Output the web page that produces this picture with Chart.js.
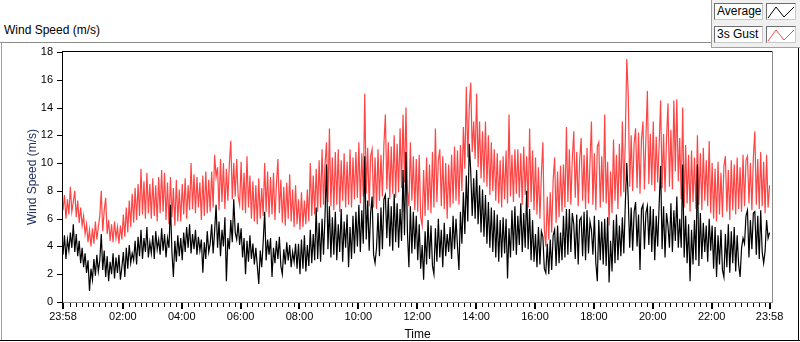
<!DOCTYPE html>
<html>
<head>
<meta charset="utf-8">
<script src="https://cdn.jsdelivr.net/npm/chart.js@4.4.1/dist/chart.umd.min.js"></script>
<style>
  html, body { margin: 0; padding: 0; background: #fff; }
  #wrap { position: relative; width: 800px; height: 342px; overflow: hidden;
          font-family: "Liberation Sans", Arial, sans-serif; color: #000; }
  #chart { position: absolute; left: 0; top: 0; }
  .abs { position: absolute; }
  .title { left: 4px; top: 23px; font-size: 12px; }
  .legendPanel { left: 711px; top: 0; width: 89px; height: 47px; background: #f0f0f0;
                 border-left: 1px solid #a0a0a0; border-bottom: 1px solid #a0a0a0; }
  .lbox { height: 15px; background: #fff; border: 1px solid #6e6e6e; border-right-color: #c8c8c8;
          border-bottom-color: #c8c8c8; font-size: 12px; line-height: 15px; padding-left: 2px; }
  .sw { width: 28px; height: 15px; background: #fff; border: 1px solid #6e6e6e;
        border-right-color: #c8c8c8; border-bottom-color: #c8c8c8; }
</style>
</head>
<body>
<div id="wrap">
  <div class="abs title">Wind Speed (m/s)</div>
  <div class="abs" style="left:0;top:42px;width:711px;height:1px;background:#8c8c8c"></div>
  <div class="abs" style="left:1px;top:42px;width:1px;height:299px;background:#a0a0a0"></div>
  <div class="abs" style="left:0;top:340px;width:800px;height:1px;background:#000"></div>
  <div class="abs" style="left:798px;top:48px;width:1px;height:293px;background:#000"></div>
  <div class="abs legendPanel"></div>
  <div class="abs lbox" style="left:714px;top:3px;width:45px">Average</div>
  <div class="abs sw" style="left:766px;top:3px">
    <svg width="28" height="15"><polyline points="1,14 9,3 17,13 27,3" fill="none" stroke="#000" stroke-width="1"/></svg>
  </div>
  <div class="abs lbox" style="left:714px;top:26px;width:45px">3s Gust</div>
  <div class="abs sw" style="left:766px;top:26px">
    <svg width="28" height="15"><polyline points="1,14 9,3 17,13 27,3" fill="none" stroke="#ff4444" stroke-width="1"/></svg>
  </div>
  <canvas id="chart" width="800" height="342"></canvas>
</div>
<script>
// one sample every 3 minutes, starting at 23:58
const STEP_MIN = 3;

// x axis: minutes after 23:58 and their labels
const tickMinutes = [0, 122, 242, 362, 482, 602, 722, 842, 962, 1082, 1202, 1322, 1440];
const tickLabels = ["23:58", "02:00", "04:00", "06:00", "08:00", "10:00", "12:00",
                    "14:00", "16:00", "18:00", "20:00", "22:00", "23:58"];
const Y_MIN = 0, Y_MAX = 18, Y_STEP = 2;

// 3s gust (m/s), 20 values per hour
const gustSpeed = [
  6.6, 7.7, 6.0, 7.4, 6.3, 8.3, 6.5, 7.2, 8.0, 6.1, 7.3, 5.7, 6.8, 5.5, 6.2, 4.9, 5.6, 4.3, 5.2, 4.0,
  5.3, 4.2, 5.8, 4.5, 5.4, 6.2, 8.0, 5.1, 6.6, 7.5, 4.9, 5.9, 4.4, 5.6, 4.3, 5.8, 4.6, 5.4, 4.2, 5.5,
  4.5, 6.3, 4.7, 6.8, 5.0, 7.3, 5.4, 7.8, 5.7, 8.2, 5.9, 8.5, 6.2, 9.6, 6.3, 8.7, 6.0, 9.3, 6.4, 8.5,
  6.0, 8.9, 6.2, 8.4, 5.8, 9.0, 6.4, 9.5, 6.5, 9.3, 5.9, 8.6, 5.6, 9.0, 6.1, 8.2, 5.5, 8.8, 5.8, 8.1,
  5.8, 8.5, 6.3, 8.9, 6.0, 8.4, 6.6, 10.0, 6.7, 9.2, 6.4, 9.0, 6.8, 8.6, 5.9, 9.1, 6.2, 9.4, 6.4, 8.8,
  6.5, 9.4, 6.8, 10.6, 9.0, 9.7, 6.6, 10.3, 7.2, 10.0, 6.7, 9.6, 7.3, 9.9, 11.6, 7.4, 10.0, 7.6, 10.3, 7.6,
  7.0, 10.1, 6.6, 9.3, 6.4, 10.5, 6.8, 9.1, 6.0, 8.7, 5.8, 8.4, 5.6, 8.9, 6.0, 8.2, 6.2, 10.0, 6.5, 9.4,
  6.1, 9.0, 6.3, 9.3, 5.9, 8.5, 10.3, 6.4, 8.8, 5.7, 8.3, 5.5, 8.6, 6.0, 9.2, 5.8, 8.1, 5.4, 8.4, 5.6,
  7.4, 5.2, 7.9, 5.4, 7.3, 5.6, 8.1, 5.8, 10.0, 6.2, 9.1, 6.3, 9.6, 6.5, 10.2, 6.8, 11.0, 7.0, 9.9, 11.5,
  7.2, 12.5, 6.9, 10.4, 6.6, 10.8, 7.0, 11.0, 6.5, 10.2, 7.3, 10.7, 6.8, 10.1, 7.0, 11.0, 6.8, 10.4, 7.4, 10.8,
  7.5, 11.5, 7.1, 10.7, 7.6, 15.0, 7.8, 11.1, 6.9, 10.5, 11.0, 6.8, 10.4, 6.7, 11.0, 7.3, 10.6, 7.6, 11.3, 13.5,
  8.1, 11.5, 7.4, 11.2, 7.8, 12.0, 7.5, 11.4, 7.9, 12.5, 8.2, 13.5, 8.6, 14.0, 8.0, 6.9, 11.5, 7.3, 10.5, 6.6,
  10.3, 6.5, 10.6, 6.1, 5.5, 9.5, 6.2, 10.4, 6.6, 9.9, 6.4, 10.8, 6.8, 12.5, 7.2, 10.2, 11.0, 6.9, 10.5, 6.7,
  10.0, 6.0, 9.9, 6.8, 10.6, 7.1, 11.2, 7.3, 10.9, 7.0, 11.3, 8.0, 12.6, 9.6, 15.5, 10.4, 14.0, 15.8, 10.8, 13.0,
  10.3, 15.0, 9.7, 13.0, 8.9, 12.3, 8.6, 13.0, 8.3, 12.0, 7.7, 11.5, 8.0, 11.0, 7.3, 10.7, 7.1, 10.2, 6.8, 10.5,
  7.4, 10.9, 7.1, 13.5, 7.6, 10.6, 7.2, 11.0, 7.8, 11.0, 7.5, 10.7, 7.0, 11.2, 7.7, 10.5, 6.8, 12.5, 7.2, 10.9,
  6.6, 10.4, 6.3, 9.7, 6.0, 9.2, 11.5, 5.2, 4.0, 7.6, 4.5, 7.9, 5.0, 8.8, 10.4, 5.7, 9.4, 6.1, 9.8, 6.5,
  9.9, 6.8, 12.6, 7.2, 11.0, 7.0, 10.3, 12.3, 7.5, 10.8, 6.9, 10.2, 11.8, 7.3, 10.6, 6.7, 11.1, 7.1, 10.0, 13.0,
  7.0, 10.7, 6.6, 11.2, 11.5, 6.8, 10.5, 7.2, 13.5, 7.1, 10.1, 5.5, 9.4, 6.4, 11.7, 7.3, 10.6, 6.7, 11.4, 7.6,
  13.0, 7.9, 11.6, 17.5, 15.0, 8.3, 12.0, 8.0, 11.4, 12.5, 8.2, 12.2, 7.8, 11.7, 13.0, 8.1, 11.8, 15.2, 8.5, 12.1,
  8.4, 13.0, 8.0, 11.9, 8.6, 11.3, 14.5, 8.2, 12.1, 7.9, 11.7, 14.3, 8.3, 12.4, 8.1, 14.5, 9.4, 14.6, 8.7, 11.8,
  7.4, 14.0, 6.8, 11.3, 7.1, 10.6, 6.5, 10.9, 7.2, 10.4, 6.7, 12.0, 7.0, 10.7, 6.6, 11.1, 7.3, 10.2, 6.9, 11.6,
  6.4, 10.0, 6.0, 9.6, 5.8, 10.1, 6.3, 9.3, 6.1, 9.8, 10.5, 6.5, 9.5, 5.9, 10.2, 6.6, 9.9, 6.3, 10.4, 6.7,
  9.7, 6.5, 10.6, 6.9, 10.2, 10.5, 7.1, 10.0, 6.6, 10.4, 12.3, 7.0, 10.3, 6.7, 10.8, 6.9, 10.1, 6.4, 10.6, 6.8, 8.4
];

// average (m/s), 20 values per hour
const avgSpeed = [
  3.4, 4.8, 3.1, 4.5, 3.7, 5.0, 3.9, 5.6, 3.6, 4.9, 3.3, 4.4, 2.8, 3.9, 2.5, 3.5, 2.1, 3.0, 0.8, 2.4,
  1.6, 3.1, 1.9, 3.4, 2.2, 3.0, 4.9, 2.3, 3.7, 1.8, 3.3, 1.5, 2.9, 2.0, 3.5, 1.7, 3.2, 2.1, 3.4, 1.6,
  2.5, 3.6, 1.8, 3.9, 2.4, 4.1, 2.8, 3.5, 3.0, 4.4, 2.7, 4.7, 3.3, 5.2, 3.1, 4.6, 3.6, 5.4, 3.2, 4.3,
  3.5, 4.8, 3.1, 5.1, 3.8, 4.5, 3.4, 5.3, 3.7, 4.9, 3.2, 4.6, 3.9, 7.0, 3.6, 1.8, 4.4, 2.9, 4.8, 3.3,
  4.6, 3.0, 5.0, 3.6, 5.4, 3.9, 5.6, 3.5, 4.9, 3.8, 5.2, 3.4, 4.7, 3.7, 4.5, 2.1, 4.3, 3.1, 5.1, 3.6,
  4.2, 5.6, 3.5, 5.1, 7.0, 3.9, 5.8, 3.3, 5.2, 4.0, 6.1, 1.5, 4.6, 3.8, 5.9, 4.3, 7.4, 5.0, 4.5, 5.7,
  4.1, 5.3, 3.2, 4.6, 2.0, 4.4, 2.9, 4.8, 3.1, 4.2, 2.7, 3.9, 2.6, 1.3, 3.7, 2.5, 4.3, 6.5, 3.0, 4.5,
  3.4, 4.6, 1.8, 3.9, 2.8, 4.4, 3.1, 4.7, 2.6, 2.0, 3.8, 2.7, 4.3, 3.0, 4.1, 2.5, 3.6, 2.9, 4.2, 2.4,
  4.2, 2.0, 4.5, 2.4, 4.8, 2.2, 4.1, 2.6, 5.2, 2.8, 4.9, 3.0, 6.8, 3.1, 5.7, 2.9, 6.0, 3.4, 6.2, 9.9,
  3.8, 6.9, 3.2, 6.1, 3.4, 6.5, 3.0, 5.6, 3.6, 6.7, 2.9, 5.8, 3.9, 6.3, 2.5, 5.4, 3.1, 6.2, 3.5, 6.5,
  4.0, 7.0, 3.6, 6.6, 4.2, 10.5, 4.5, 7.3, 3.7, 6.4, 7.6, 3.4, 2.8, 3.9, 6.4, 3.3, 6.8, 3.8, 7.4, 7.7,
  4.6, 7.5, 4.0, 6.9, 3.7, 7.8, 4.3, 7.1, 3.9, 6.7, 4.4, 9.5, 4.8, 10.8, 5.0, 2.5, 6.9, 3.5, 6.5, 3.8,
  6.2, 3.0, 5.6, 2.4, 4.1, 1.6, 5.1, 2.7, 5.9, 3.1, 5.5, 2.6, 2.0, 5.3, 2.9, 6.0, 3.2, 5.2, 2.5, 5.7,
  3.3, 4.9, 3.6, 5.4, 3.1, 6.2, 3.8, 6.0, 4.0, 2.3, 6.5, 4.2, 7.9, 4.9, 9.1, 5.8, 11.4, 9.4, 6.2, 8.9,
  6.0, 9.5, 5.6, 8.4, 5.0, 8.1, 4.7, 7.7, 4.2, 7.2, 3.9, 6.8, 3.6, 6.6, 3.2, 6.3, 2.9, 5.9, 3.2, 6.1,
  3.5, 6.0, 1.7, 5.3, 3.2, 6.6, 3.7, 6.9, 3.4, 6.2, 4.1, 7.1, 3.6, 6.4, 3.9, 8.0, 3.8, 6.7, 3.0, 5.9,
  2.9, 4.9, 2.5, 5.4, 2.7, 5.1, 4.7, 2.4, 2.1, 4.2, 2.0, 4.5, 2.3, 4.8, 5.2, 2.6, 5.5, 2.8, 5.0, 3.0,
  6.2, 3.2, 6.7, 3.4, 6.7, 3.6, 6.4, 5.6, 3.1, 6.3, 2.7, 5.9, 6.1, 3.3, 6.5, 3.0, 6.6, 3.5, 5.8, 5.2,
  3.4, 6.2, 2.8, 1.5, 5.9, 3.0, 5.8, 2.7, 6.0, 2.6, 6.1, 1.4, 4.4, 2.2, 5.9, 2.8, 6.3, 3.0, 5.5, 3.3,
  6.1, 3.5, 7.0, 10.0, 7.4, 3.9, 6.8, 3.7, 6.5, 7.2, 4.0, 6.3, 2.3, 6.7, 7.0, 3.8, 6.4, 6.9, 4.1, 6.9,
  3.6, 6.7, 3.0, 6.2, 4.0, 7.0, 9.8, 3.8, 6.9, 3.2, 6.4, 5.5, 3.9, 7.1, 3.6, 6.6, 4.4, 7.6, 3.9, 6.0,
  3.9, 9.9, 3.2, 6.2, 2.8, 5.6, 1.5, 5.2, 2.7, 5.9, 3.0, 9.9, 2.6, 6.4, 3.1, 5.7, 3.6, 5.5, 2.9, 6.0,
  3.7, 5.5, 2.4, 5.4, 1.8, 4.8, 2.7, 5.2, 2.3, 1.8, 4.9, 2.5, 5.6, 2.1, 5.1, 2.8, 5.4, 2.2, 4.8, 2.7,
  1.8, 3.9, 4.6, 4.2, 6.2, 6.6, 3.2, 5.9, 3.8, 6.4, 6.5, 3.4, 6.2, 3.1, 6.6, 3.6, 2.8, 3.7, 5.9, 4.6, 5.0
];

const toPoints = (arr) => arr.map((v, i) => ({ x: i * STEP_MIN, y: v }));

// LabVIEW style frame and tick marks
const labviewAxes = {
  id: "labviewAxes",
  afterDraw(chart) {
    const { ctx, chartArea: a, scales: { x, y } } = chart;
    ctx.save();
    ctx.fillStyle = "#8c8c8c";
    ctx.fillRect(a.right, a.top - 1, 1, a.bottom - a.top + 2);
    ctx.fillRect(a.left, a.bottom, a.right - a.left, 1);
    ctx.fillStyle = "#000";
    ctx.fillRect(a.left - 1, a.top - 1, 1, a.bottom - a.top + 2);
    ctx.fillRect(a.left - 1, a.top - 1, a.right - a.left + 1, 1);

    for (let v = Y_MIN; v <= Y_MAX; v += Y_STEP) {
      const py = Math.round(y.getPixelForValue(v));
      ctx.fillRect(a.left - 6, py, 5, 1);
    }
    tickMinutes.forEach((m) => {
      const px = Math.round(x.getPixelForValue(m));
      ctx.fillRect(px - 1, a.bottom + 1, 2, 6);
    });
    // minor ticks every 12 minutes from 00:00
    for (let m = 2; m < 1440; m += 12) {
      if (tickMinutes.some((t) => Math.abs(t - m) < 3)) continue;
      const px = Math.round(x.getPixelForValue(m));
      ctx.fillRect(px, a.bottom + 1, 1, 4);
    }
    ctx.restore();
  }
};

new Chart(document.getElementById("chart"), {
  type: "line",
  data: {
    datasets: [
      {
        label: "Average",
        data: toPoints(avgSpeed),
        borderColor: "#000000",
        borderWidth: 1.2,
        pointRadius: 0,
        tension: 0
      },
      {
        label: "3s Gust",
        data: toPoints(gustSpeed),
        borderColor: "#ff4444",
        borderWidth: 1.2,
        pointRadius: 0,
        tension: 0
      }
    ]
  },
  options: {
    responsive: false,
    animation: false,
    devicePixelRatio: 1,
    layout: { padding: { top: 52, right: 28, left: 0, bottom: 0 } },
    plugins: { legend: { display: false }, tooltip: { enabled: false } },
    scales: {
      x: {
        type: "linear",
        min: 0,
        max: 1445,
        grid: { display: false, drawTicks: false },
        border: { display: false },
        afterBuildTicks: (scale) => {
          scale.ticks = tickMinutes.map((m) => ({ value: m }));
        },
        afterFit: (scale) => { scale.height = 40; },
        ticks: {
          autoSkip: false,
          maxRotation: 0,
          padding: 8,
          color: "#000",
          font: { family: "Liberation Sans", size: 11 },
          callback: (value) => tickLabels[tickMinutes.indexOf(value)]
        },
        title: {
          display: true,
          text: "Time",
          color: "#000",
          padding: { top: 0, bottom: 0 },
          font: { family: "Liberation Sans", size: 12 }
        }
      },
      y: {
        min: Y_MIN,
        max: Y_MAX,
        grid: { display: false, drawTicks: false },
        border: { display: false },
        afterFit: (scale) => { scale.width = 63; },
        ticks: {
          stepSize: Y_STEP,
          padding: 10,
          color: "#000",
          font: { family: "Liberation Sans", size: 11 }
        },
        title: {
          display: true,
          text: "Wind Speed (m/s)",
          color: "#1f3060",
          padding: { top: 25, bottom: 0 },
          font: { family: "Liberation Sans", size: 12 }
        }
      }
    }
  },
  plugins: [labviewAxes]
});
</script>
</body>
</html>
